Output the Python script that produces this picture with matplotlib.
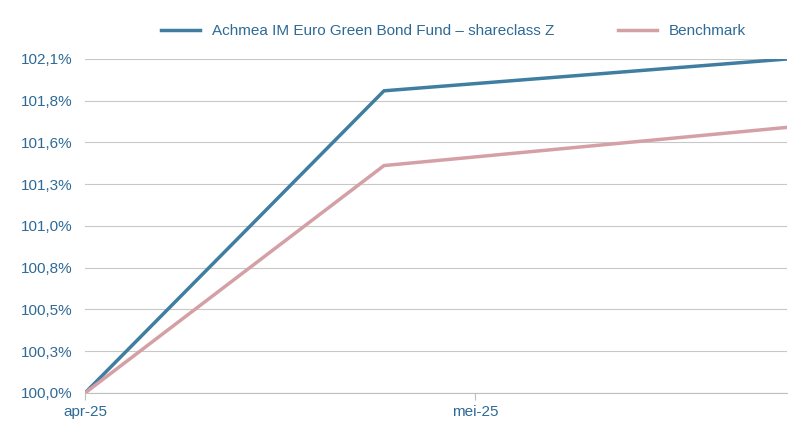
import matplotlib
matplotlib.use("Agg")
import matplotlib.pyplot as plt

days = [0, 23, 54]
fund = [100.0, 101.90, 102.10]
bench = [100.0, 101.43, 101.67]
xtick_pos = [0, 30]
xtick_labels = ["apr-25", "mei-25"]
ytick_vals = [100 + i * 0.2625 for i in range(9)]
ytick_labels = ["100,0%", "100,3%", "100,5%", "100,8%", "101,0%", "101,3%", "101,6%", "101,8%", "102,1%"]

plt.rcParams["font.family"] = "Liberation Sans"
fig = plt.figure(figsize=(8.03, 4.23), dpi=100)
ax = fig.add_axes([85/803, 1-393/423, (787-85)/803, (393-59)/423])
ax.plot(days, fund, color="#3f7ea0", lw=2.5, label="Achmea IM Euro Green Bond Fund – shareclass Z")
ax.plot(days, bench, color="#d4a0a5", lw=2.5, label="Benchmark")
ax.set_xlim(0, 54)
ax.set_ylim(100, 102.1)
ax.set_yticks(ytick_vals)
ax.set_yticklabels(ytick_labels)
ax.set_xticks(xtick_pos)
ax.set_xticklabels(xtick_labels)
ax.grid(axis="y", color="#c8c8c8", lw=0.8)
for s in ["top", "right", "left"]:
    ax.spines[s].set_visible(False)
ax.spines["bottom"].set_color("#bfbfbf")
ax.tick_params(axis="y", length=0, pad=9, labelsize=11, colors="#2e6a96")
ax.tick_params(axis="x", length=5, color="#bfbfbf", labelsize=11, labelcolor="#2e6a96")
ax.set_axisbelow(True)
leg = fig.legend(loc="center", bbox_to_anchor=(0.565, 1-31/423), ncol=2, frameon=False,
                 fontsize=11, handlelength=2.5, columnspacing=4.2)
for t in leg.get_texts():
    t.set_color("#2e6a96")
fig.savefig("out.png", dpi=100)
